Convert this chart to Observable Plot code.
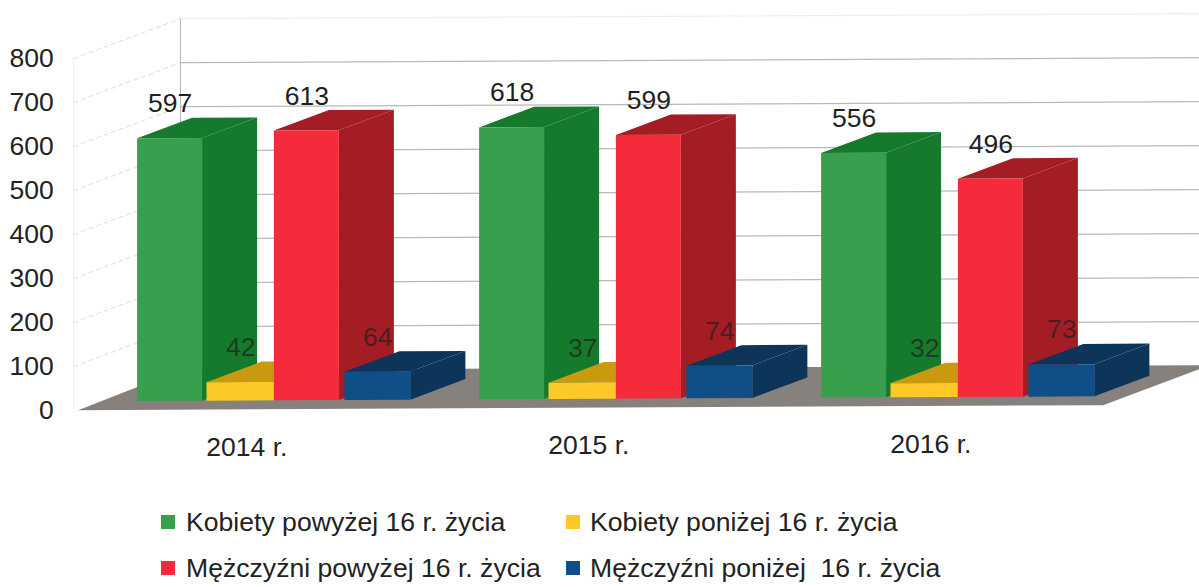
<!DOCTYPE html>
<html><head><meta charset="utf-8">
<script src="https://cdn.jsdelivr.net/npm/d3@7"></script>
<script src="https://cdn.jsdelivr.net/npm/@observablehq/plot@0.6"></script>
<style>
html,body{margin:0;padding:0;background:#fff;overflow:hidden}
#wrap{position:relative;width:1199px;height:587px;font-family:"Liberation Sans",Arial,sans-serif;color:#222}
.sw{position:absolute;width:14px;height:14px}
.lb{position:absolute;font-size:26.6px;line-height:28px;white-space:pre}
</style></head><body>
<div id="wrap"></div>
<script>
const years = ["2014 r.", "2015 r.", "2016 r."];
const seriesNames = ["Kobiety powyżej 16 r. życia", "Kobiety poniżej 16 r. życia", "Mężczyźni powyżej 16 r. życia", "Mężczyźni poniżej  16 r. życia"];
const kobietyPowyzej = [597, 618, 556];
const kobietyPonizej = [42, 37, 32];
const mezczyzniPowyzej = [613, 599, 496];
const mezczyzniPonizej = [64, 74, 73];
const yTicks = [0, 100, 200, 300, 400, 500, 600, 700, 800];
const frontColors = ["#38a04c", "#fcc928", "#f52b3b", "#0f4e86"];
const sideColors = ["#157a2b", "#c99a10", "#a51d24", "#0c3559"];

const seriesValues = [kobietyPowyzej, kobietyPonizej, mezczyzniPowyzej, mezczyzniPonizej];
// pseudo-3D projection: u = category position, v = value, z = depth (0 front, 1 back wall)
const px = (u, z) => u + z * 0.313;
const py = (v, u, z) => v + z * 91 + u * 3.8;
const offsets = [0, 0.203, 0.4, 0.606], widths = [0.19, 0.197, 0.19, 0.193];
const z0 = 0.225, z1 = 0.225 + 0.514;
const wallU = -0.117, rightU = 3.2;

const faces = [];
const quad = (id, fill, a, b, c, d) => faces.push(
  {id, fill, x1: px(a[0], a[2]), y1: py(a[1], a[0], a[2]), x2: px(c[0], c[2]), y2: py(c[1], c[0], c[2])},
  {id, fill, x1: px(b[0], b[2]), y1: py(b[1], b[0], b[2]), x2: px(d[0], d[2]), y2: py(d[1], d[0], d[2])}
);
const labels = [];
years.forEach((_, i) => seriesValues.forEach((vals, s) => {
  const u = i + offsets[s], w = widths[s], v = vals[i], id = `${i}-${s}`;
  quad(id + "side", sideColors[s], [u + w, 0, z0], [u + w, 0, z1], [u + w, v, z0], [u + w, v, z1]);
  quad(id + "top", sideColors[s], [u, v, z0], [u + w, v, z0], [u, v, z1], [u + w, v, z1]);
  quad(id + "front", frontColors[s], [u, 0, z0], [u + w, 0, z0], [u, v, z0], [u + w, v, z0]);
  labels.push({x: px(u + w / 2, z0), y: py(v, u, z0), text: String(v), low: v < 100});
}));
const floor = [];
floor.push({x1: px(-0.102, 0), y1: py(0, -0.102, 0), x2: px(wallU, 1), y2: py(0, wallU, 1)});
floor.push({x1: px(2.895, 0), y1: py(0, 2.895, 0), x2: px(2.895, 1), y2: py(0, 2.895, 1)});

const wallLines = yTicks.slice(1).map(v => ({v, x1: px(wallU, 1), y1: py(v, wallU, 1), x2: px(rightU, 1), y2: py(v, rightU, 1)}));
const sideLines = yTicks.slice(1).map(v => ({v, x1: px(wallU, 0), y1: py(v, wallU, 0), x2: px(wallU, 1), y2: py(v, wallU, 1)}));

const chart = Plot.plot({
  width: 1199, height: 490,
  marginLeft: 0, marginRight: 0, marginTop: 0, marginBottom: 0,
  x: {domain: [0, 3], range: [113, 1139], axis: null},
  y: {domain: [0, 800], range: [410, 58], axis: null},
  color: {type: "identity"},
  style: {fontFamily: '"Liberation Sans", Arial, sans-serif', background: "#fff", overflow: "hidden"},
  marks: [
    Plot.link(wallLines, {x1: "x1", y1: "y1", x2: "x2", y2: "y2", stroke: "#a8a8a8", strokeWidth: 1.2, strokeOpacity: d => d.v === 800 ? 0.2 : 0.8}),
    Plot.link(sideLines, {x1: "x1", y1: "y1", x2: "x2", y2: "y2", stroke: "#dcdcdc", strokeWidth: 1, strokeDasharray: "5 3"}),
    Plot.link([0], {x1: px(wallU, 1), x2: px(wallU, 1), y1: py(0, wallU, 1), y2: py(800, wallU, 1), stroke: "#b5b5b5", strokeWidth: 1}),
    Plot.link([0], {x1: px(wallU, 0), x2: px(wallU, 0), y1: py(0, wallU, 0), y2: py(800, wallU, 0), stroke: "#f0f0f0", strokeWidth: 1}),
    Plot.area(floor, {x1: "x1", y1: "y1", x2: "x2", y2: "y2", fill: "#86817c"}),
    Plot.area(faces, {x1: "x1", y1: "y1", x2: "x2", y2: "y2", z: "id", fill: "fill"}),
    Plot.text(labels, {x: "x", y: "y", text: "text", dy: -35, fontSize: 26.5, fill: "#1f1f1f", fillOpacity: d => d.low ? 0.7 : 1}),
    Plot.text(yTicks, {x: px(-0.175, 0), y: d => d, text: d => String(d), textAnchor: "end", fontSize: 26.5, fill: "#222"}),
    Plot.text(years, {x: (d, i) => px(i + 0.39, 0), y: (d, i) => py(0, i, 0), text: d => d, dy: 37, fontSize: 26.5, fill: "#222"})
  ]
});
const wrap = document.getElementById("wrap");
wrap.appendChild(chart);
chart.style.display = "block";

// legend below the SVG
const cols = [161, 566], rows = [515, 561];
[0, 1, 2, 3].forEach(k => {
  const c = k % 2, r = k >> 1;
  const sw = document.createElement("div");
  sw.className = "sw";
  sw.style.cssText = `left:${cols[c]}px;top:${rows[r]}px;background:${frontColors[k]}`;
  wrap.appendChild(sw);
  const lb = document.createElement("div");
  lb.className = "lb";
  lb.textContent = seriesNames[k];
  lb.style.cssText = `left:${cols[c] + (c ? 24 : 25)}px;top:${rows[r] - 7}px`;
  wrap.appendChild(lb);
});
</script>
</body></html>
